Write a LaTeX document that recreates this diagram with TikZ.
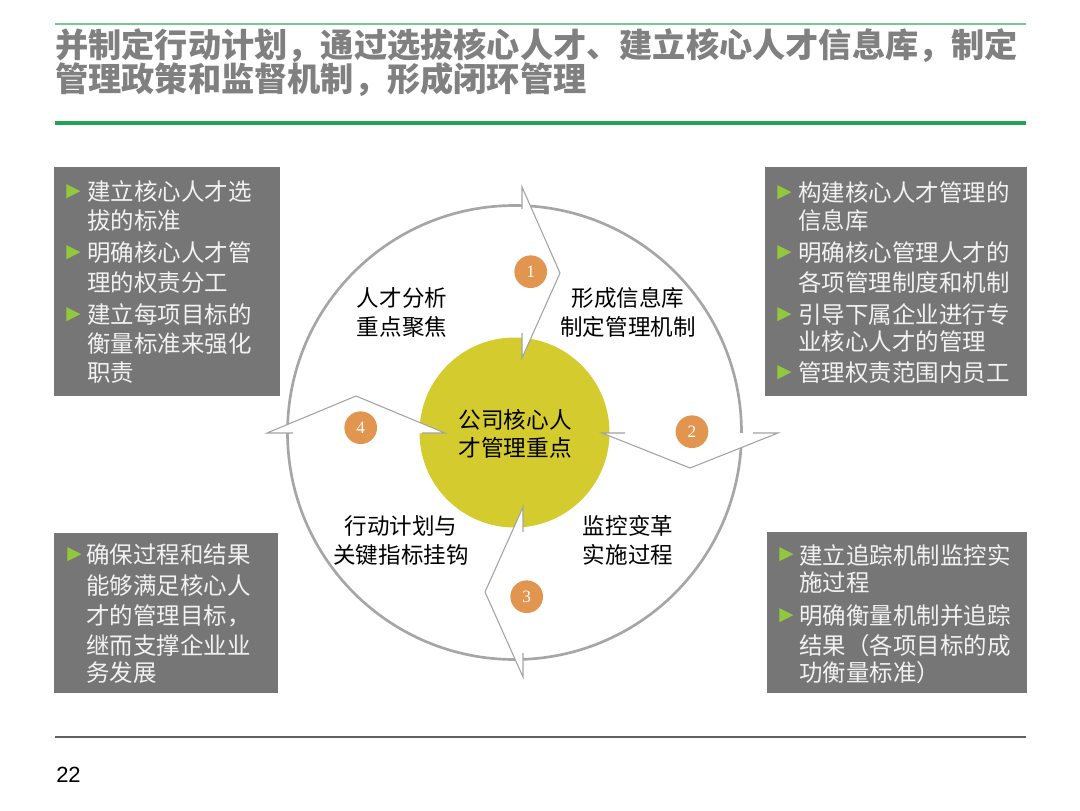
\documentclass[tikz,border=0pt]{standalone}
\usepackage{fontspec}
\setmainfont{Noto Sans CJK SC}
\newfontfamily\symfont{DejaVu Sans}
\newfontfamily\numfont{Liberation Serif}
\newfontfamily\pagefont{Liberation Sans}
\definecolor{titlegray}{HTML}{808080}
\definecolor{lightgreen}{HTML}{74C996}
\definecolor{darkgreen}{HTML}{22A456}
\definecolor{boxgray}{HTML}{767676}
\definecolor{boxtxt}{HTML}{F2F2F2}
\definecolor{bulgreen}{HTML}{92C83E}
\definecolor{ringgray}{HTML}{A6A6A6}
\definecolor{arrowgray}{HTML}{A3A3A3}
\definecolor{coreyellow}{HTML}{D4CB2E}
\definecolor{numorange}{HTML}{E2954E}
\definecolor{rulegray}{HTML}{606060}
\newcommand\tline[4]{\node[boxtext] (#1) at (#2,#3) {#4};}
\newcommand\tbul[3]{\node[bul] (#1) at (#2,#3) {▶};}
\begin{document}
\begin{tikzpicture}[x=0.75pt,y=-0.75pt,
  boxfill/.style={fill=boxgray,draw=none},
  boxtext/.style={anchor=west,text=boxtxt,inner sep=0pt,font=\fontsize{17.6pt}{20pt}\selectfont},
  bul/.style={anchor=west,text=bulgreen,inner sep=0pt,font=\symfont\fontsize{14pt}{14pt}\selectfont},
  ringlabel/.style={align=center,inner sep=0pt,text=black,font=\fontsize{16.9pt}{21.75pt}\selectfont},
  arrowfill/.style={fill=white,draw=none},
  arrowline/.style={draw=arrowgray,line width=0.8pt,line join=miter},
  numdisc/.style={circle,fill=numorange,minimum size=24.5pt,inner sep=0pt,text=white,font=\numfont\fontsize{13pt}{13pt}\selectfont},
  titletext/.style={anchor=west,inner sep=0pt,text=titlegray,font=\bfseries\fontsize{24.9pt}{28pt}\selectfont}
]
\useasboundingbox (0,0) rectangle (1080,810);
\fill[white] (0,0) rectangle (1080,810);

% header rules and title
\draw[lightgreen,line width=1.5pt] (55,24) -- (1026,24);
\draw[darkgreen,line width=2.3pt] (55,123) -- (1026,123);
\node[titletext] (title1) at (55,46) {并制定行动计划，通过选拔核心人才、建立核心人才信息库，制定};
\node[titletext] (title2) at (55,80) {管理政策和监督机制，形成闭环管理};

% footer
\draw[rulegray,line width=1.5pt] (55,737) -- (1026,737);
\node[anchor=west,inner sep=0pt,font=\pagefont\fontsize{16.5pt}{16.5pt}\selectfont] (page) at (56,775) {22};

% rings
\node[circle,draw=ringgray,line width=2pt,minimum size=340.5pt,inner sep=0pt] (ring) at (514.5,432.5) {};
\node[circle,fill=coreyellow,minimum size=142.5pt,inner sep=0pt] (core) at (514.5,432.5) {};

% arrow 1 (top)
\coordinate (a1t) at (522,187); \coordinate (a1p) at (560,273); \coordinate (a1b) at (522,358);
\coordinate (a1s) at (522,209); \coordinate (a1e) at (522,333);
\fill[arrowfill] (a1t) -- (a1p) -- (a1b) -- cycle;
\draw[arrowline] (a1s) -- (a1t) -- (a1p) -- (a1b) -- (a1e);
% arrow 2 (right)
\coordinate (a2t) at (602,433); \coordinate (a2p) at (690,468); \coordinate (a2b) at (778,433);
\coordinate (a2s) at (625,433); \coordinate (a2e) at (753,433);
\fill[arrowfill] (a2t) -- (a2p) -- (a2b) -- cycle;
\draw[arrowline] (a2s) -- (a2t) -- (a2p) -- (a2b) -- (a2e);
% arrow 3 (bottom)
\coordinate (a3t) at (523,507); \coordinate (a3p) at (485,592); \coordinate (a3b) at (523,677);
\coordinate (a3s) at (523,532); \coordinate (a3e) at (523,653);
\fill[arrowfill] (a3t) -- (a3p) -- (a3b) -- cycle;
\draw[arrowline] (a3s) -- (a3t) -- (a3p) -- (a3b) -- (a3e);
% arrow 4 (left)
\coordinate (a4t) at (267,433); \coordinate (a4p) at (356,396); \coordinate (a4b) at (445,433);
\coordinate (a4s) at (293,433); \coordinate (a4e) at (422,433);
\fill[arrowfill] (a4t) -- (a4p) -- (a4b) -- cycle;
\draw[arrowline] (a4s) -- (a4t) -- (a4p) -- (a4b) -- (a4e);

% number discs
\node[numdisc] (n1) at (530.7,271.7) {1};
\node[numdisc] (n2) at (692,431.7) {2};
\node[numdisc] (n3) at (526.7,596.7) {3};
\node[numdisc] (n4) at (360.7,427.7) {4};

% ring labels
\node[ringlabel] (q1) at (402,312.5) {人才分析\\重点聚焦};
\node[ringlabel] (q2) at (628,312.5) {形成信息库\\制定管理机制};
\node[ringlabel] (q3) at (401,540) {行动计划与\\关键指标挂钩};
\node[ringlabel] (q4) at (628,540) {监控变革\\实施过程};
\node[ringlabel,font=\fontsize{17pt}{21pt}\selectfont] (center) at (515,434) {公司核心人\\才管理重点};

% box top-left
\fill[boxfill] (54,167) rectangle (280,396);
\tbul{b11}{66}{192}
\tline{l11}{87}{192}{建立核心人才选}
\tline{l12}{87}{221}{拔的标准}
\tbul{b12}{66}{253}
\tline{l13}{87}{253}{明确核心人才管}
\tline{l14}{87}{283}{理的权责分工}
\tbul{b13}{66}{315}
\tline{l15}{87}{315}{建立每项目标的}
\tline{l16}{87}{344}{衡量标准来强化}
\tline{l17}{87}{373}{职责}

% box top-right
\fill[boxfill] (765,167) rectangle (1027,396);
\tbul{b21}{777}{193}
\tline{l21}{798}{193}{构建核心人才管理的}
\tline{l22}{798}{221}{信息库}
\tbul{b22}{777}{253}
\tline{l23}{798}{253}{明确核心管理人才的}
\tline{l24}{798}{283}{各项管理制度和机制}
\tbul{b23}{777}{315}
\tline{l25}{798}{315}{引导下属企业进行专}
\tline{l26}{798}{342}{业核心人才的管理}
\tbul{b24}{777}{373}
\tline{l27}{798}{373}{管理权责范围内员工}

% box bottom-left
\fill[boxfill] (54,533) rectangle (278,693);
\tbul{b31}{67}{555}
\tline{l31}{86}{555}{确保过程和结果}
\tline{l32}{86}{586}{能够满足核心人}
\tline{l33}{86}{616}{才的管理目标，}
\tline{l34}{86}{645}{继而支撑企业业}
\tline{l35}{86}{673}{务发展}

% box bottom-right
\fill[boxfill] (767,532) rectangle (1027,693);
\tbul{b41}{779}{555}
\tline{l41}{799}{555}{建立追踪机制监控实}
\tline{l42}{799}{583}{施过程}
\tbul{b42}{779}{616}
\tline{l43}{799}{616}{明确衡量机制并追踪}
\tline{l44}{799}{646}{结果（各项目标的成}
\tline{l45}{799}{673}{功衡量标准）}
\end{tikzpicture}
\end{document}
